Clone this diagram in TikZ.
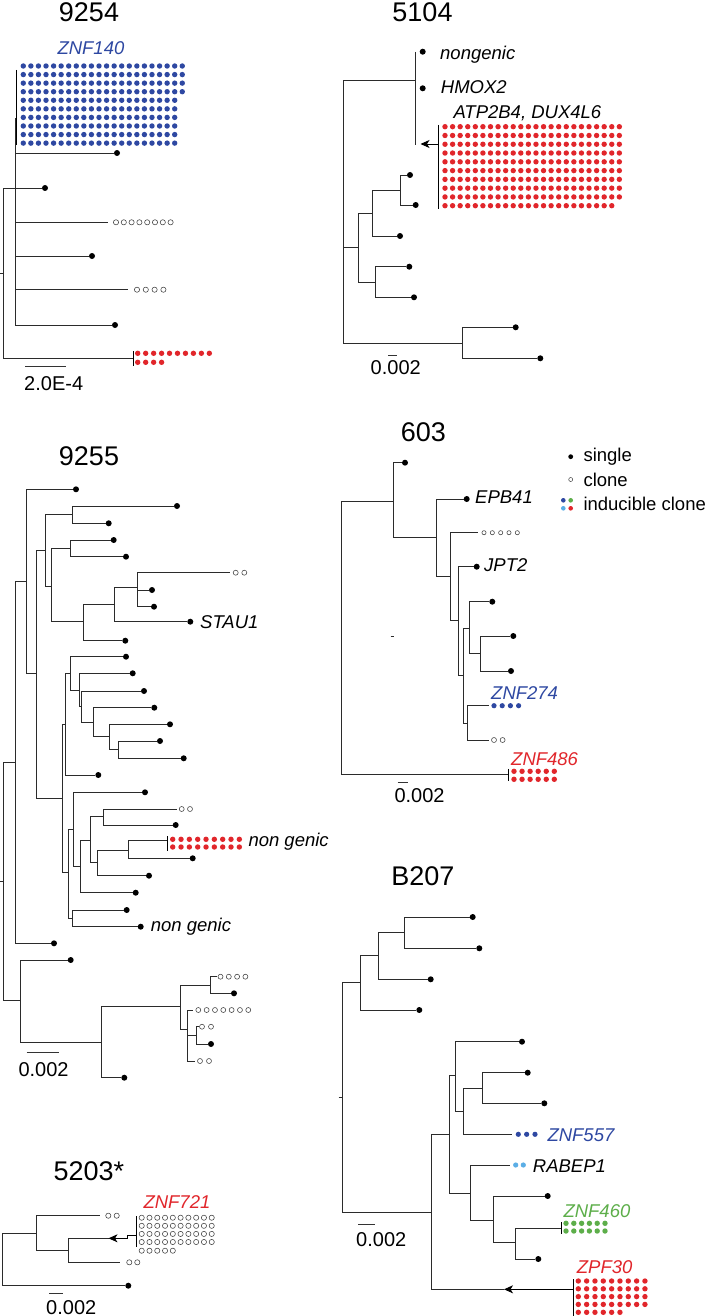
\documentclass[tikz,border=0pt]{standalone}
\usepackage{fontspec}
\setmainfont{Liberation Sans}
\usetikzlibrary{arrows.meta}
\definecolor{zblue}{HTML}{2E48A2}
\definecolor{zred}{HTML}{E1262B}
\definecolor{zgreen}{HTML}{5DAE4A}
\definecolor{zlblue}{HTML}{5BAEE6}
\definecolor{brc}{HTML}{2B2B2B}
\newcommand\drow[6]{\foreach \ci in {1,...,#3}{\path[#5] ({#1+(\ci-1)*#4},{#2}) circle[radius=#6];}}
\newcommand\dl[3]{\node[dotleaf] (#1) at (#2,#3) {};}
\newcommand\cn[3]{\coordinate (#1) at (#2,#3);}
\newcommand\br[2]{\draw[br] (#1) |- (#2);}
\begin{document}
\begin{tikzpicture}[x=1pt,y=-1pt,
  br/.style={draw=brc,line width=0.95pt},
  dotleaf/.style={circle,fill=black,inner sep=0pt,minimum size=6pt},
  ttl/.style={font=\fontsize{27}{27}\selectfont,anchor=base,inner sep=0pt},
  lab/.style={font=\fontsize{18.5}{18.5}\selectfont\itshape,anchor=base west,inner sep=0pt},
  scl/.style={font=\fontsize{20}{20}\selectfont,anchor=base west,inner sep=0pt},
  leg/.style={font=\fontsize{18.5}{18.5}\selectfont,anchor=base west,inner sep=0pt},
  oc/.style={draw=black!75,line width=0.55pt,fill=white},
  fb/.style={fill=zblue}, fr/.style={fill=zred}, fg/.style={fill=zgreen},
  flb/.style={fill=zlblue},
  bar/.style={draw=black,line width=0.95pt},
  arr/.style={draw=black,line width=0.95pt,-{Stealth[length=9pt,width=8pt,inset=2.5pt]}},
  sb/.style={draw=black!80,line width=0.95pt}
]
\fill[white] (0,0) rectangle (708,1316);
\useasboundingbox (0,0) rectangle (708,1316);

%%%%%%%%%%%%%%%% 9254
\node[ttl] (t9254) at (89,21.7) {9254};
\node[lab,text=zblue] (l140) at (57.3,55) {ZNF140};
\cn{a-rs}{0}{273}\cn{a-R}{3.3}{273}\cn{a-I}{15}{188}\cn{a-top}{15}{118}\cn{a-red}{133}{358}
\dl{a1}{117}{153}\dl{a2}{45}{188}\cn{a3}{108}{222.3}\dl{a4}{92}{256}\cn{a5}{128}{289.7}\dl{a6}{115}{325}
\draw[br] (a-rs)--(a-R);
\br{a-R}{a-I}\br{a-R}{a-red}
\br{a-I}{a-top}\br{a-I}{a1}\br{a-I}{a2}\br{a-I}{a3}\br{a-I}{a4}\br{a-I}{a5}\br{a-I}{a6}
\cn{a-bt}{16.7}{70}\cn{a-bb}{16.7}{145}\draw[bar] (a-bt)--(a-bb);
\foreach \ri in {0,...,3}{\drow{23.3}{66+\ri*8.57}{22}{7.57}{fb}{2.7pt}}
\foreach \ri in {4,...,9}{\drow{23.3}{66+\ri*8.57}{21}{7.57}{fb}{2.7pt}}
\drow{116}{222.3}{8}{7.8}{oc}{2.6pt}
\drow{137}{289.7}{4}{8.8}{oc}{2.6pt}
\draw[bar] (a-red) ++(0,-7) -- ++(0,15);
\drow{137.7}{353.3}{10}{7.96}{fr}{2.7pt}
\drow{137.7}{362.3}{4}{7.96}{fr}{2.7pt}
\cn{a-s1}{25}{366.7}\cn{a-s2}{66}{366.7}\draw[sb] (a-s1)--(a-s2);
\node[scl] (a-sl) at (24,390) {2.0E-4};

%%%%%%%%%%%%%%%% 5104
\node[ttl] (t5104) at (422.5,21.7) {5104};
\cn{b-R}{343}{247}\cn{b-T}{415}{80}\cn{b-Tt}{415}{52}\cn{b-Tb}{415}{145}
\draw[br] (b-Tt)--(b-Tb);
\dl{b1}{422.7}{51.7}\dl{b2}{422.7}{88.3}
\node[lab] (lb1) at (440,59.3) {nongenic};
\node[lab] (lb2) at (440.7,93.3) {HMOX2};
\node[lab] (lb3) at (453.3,119) {ATP2B4, DUX4L6};
\cn{b-ab}{438}{144}\cn{b-at}{420.5}{144}\draw[arr] (b-ab)--(b-at);
\cn{b-bt}{438}{125}\cn{b-bb}{438}{209}\draw[bar] (b-bt)--(b-bb);
\foreach \ri in {0,...,8}{\drow{445}{126.7+\ri*8.78}{24}{7.58}{fr}{2.7pt}}
\drow{445}{205.7}{23}{7.58}{fr}{2.7pt}
\cn{b-M}{358}{247}\cn{b-M1}{372}{213}\cn{b-Q}{400}{190}\cn{b-M2}{375}{282}\cn{b-B}{462.7}{343.3}
\dl{b3}{410}{175}\dl{b4}{415.7}{205}\dl{b5}{400}{236}\dl{b6}{409.3}{266.7}\dl{b7}{414}{297.3}
\dl{b8}{515.7}{327.3}\dl{b9}{540.3}{358.3}
\br{b-R}{b-T}\br{b-R}{b-M}\br{b-R}{b-B}
\br{b-M}{b-M1}\br{b-M}{b-M2}\br{b-M1}{b-Q}\br{b-M1}{b5}
\br{b-Q}{b3}\br{b-Q}{b4}\br{b-M2}{b6}\br{b-M2}{b7}
\br{b-B}{b8}\br{b-B}{b9}
\cn{b-s1}{388.3}{355}\cn{b-s2}{396.7}{355}\draw[sb] (b-s1)--(b-s2);
\node[scl] (b-sl) at (370.5,374) {0.002};

%%%%%%%%%%%%%%%% 9255
\node[ttl] (t9255) at (89,465) {9255};
\cn{c-rs}{0}{881.5}\cn{c-R}{3.3}{881.5}\cn{c-N0}{15}{762.3}\cn{c-NB}{20.7}{1000.7}
\draw[br] (c-rs)--(c-R); \br{c-R}{c-N0}\br{c-R}{c-NB}
\cn{c-N1}{26}{581.7}\dl{c-L0}{54}{943.3}
\br{c-N0}{c-N1}\br{c-N0}{c-L0}
\dl{c-L1}{76}{489.3}\cn{c-N2}{36.7}{673.3}
\br{c-N1}{c-L1}\br{c-N1}{c-N2}
\cn{c-N3}{45.7}{550}\cn{c-N4}{62.3}{798.3}
\br{c-N2}{c-N3}\br{c-N2}{c-N4}
\cn{c-N5}{72.7}{514}\cn{c-N6}{51}{586}
\br{c-N3}{c-N5}\br{c-N3}{c-N6}
\dl{c-L2}{177}{506}\dl{c-L3}{108.7}{523.3}
\br{c-N5}{c-L2}\br{c-N5}{c-L3}
\cn{c-N7}{70.3}{548.3}\cn{c-N8}{83.3}{621.7}
\br{c-N6}{c-N7}\br{c-N6}{c-N8}
\dl{c-L4}{113.7}{540}\dl{c-L5}{126}{556.7}
\br{c-N7}{c-L4}\br{c-N7}{c-L5}
\cn{c-N9}{114.3}{604}\dl{c-L6}{125.3}{640.7}
\br{c-N8}{c-N9}\br{c-N8}{c-L6}
\cn{c-N10}{137.7}{587}\dl{c-L7}{190.3}{621.7}
\br{c-N9}{c-N10}\br{c-N9}{c-L7}
\node[lab] (lc1) at (200,628.3) {STAU1};
\cn{c-L8}{230}{572.7}\dl{c-L9}{152}{590}\dl{c-L10}{154}{606.7}
\br{c-N10}{c-L8}\br{c-N10}{c-L9}\br{c-N10}{c-L10}
\drow{235.7}{572.7}{2}{8.6}{oc}{2.5pt}
\cn{c-N11}{65.7}{724.2}\cn{c-N12}{68.3}{872.7}
\br{c-N4}{c-N11}\br{c-N4}{c-N12}
\cn{c-N13}{70}{673.5}\dl{c-L11}{98.3}{775}
\br{c-N11}{c-N13}\br{c-N11}{c-L11}
\dl{c-L12}{126}{656.7}\cn{c-N14}{79.3}{690}
\br{c-N13}{c-L12}\br{c-N13}{c-N14}
\dl{c-L13}{132.7}{673.3}\cn{c-N15}{81.7}{706.3}
\br{c-N14}{c-L13}\br{c-N14}{c-N15}
\dl{c-L14}{144}{691}\cn{c-N16}{93.3}{722.2}
\br{c-N15}{c-L14}\br{c-N15}{c-N16}
\dl{c-L15}{154.3}{707.7}\cn{c-N17}{109.3}{736.8}
\br{c-N16}{c-L15}\br{c-N16}{c-N17}
\dl{c-L16}{170}{724.3}\cn{c-N18}{118.3}{749.7}
\br{c-N17}{c-L16}\br{c-N17}{c-N18}
\dl{c-L17}{160}{741}\dl{c-L18}{183.7}{758.3}
\br{c-N18}{c-L17}\br{c-N18}{c-L18}
\cn{c-N19}{73.3}{829.3}\cn{c-N20}{72.7}{918.3}
\br{c-N12}{c-N19}\br{c-N12}{c-N20}
\dl{c-L19}{145}{792.3}\cn{c-N21}{80}{866.3}
\br{c-N19}{c-L19}\br{c-N19}{c-N21}
\cn{c-N22}{90}{840}\dl{c-L20}{135.7}{892.7}
\br{c-N21}{c-N22}\br{c-N21}{c-L20}
\cn{c-N23}{103.3}{816.7}\cn{c-N24}{97.7}{862.8}
\br{c-N22}{c-N23}\br{c-N22}{c-N24}
\cn{c-L21}{176.7}{809}\dl{c-L22}{175.7}{825}
\br{c-N23}{c-L21}\br{c-N23}{c-L22}
\drow{181.7}{809}{2}{8.3}{oc}{2.5pt}
\cn{c-N25}{128.3}{850}\dl{c-L23}{149}{875.7}
\br{c-N24}{c-N25}\br{c-N24}{c-L23}
\cn{c-red}{167.7}{840}\dl{c-L24}{192.7}{858.3}
\br{c-N25}{c-red}\br{c-N25}{c-L24}
\draw[bar] (c-red) ++(0,-4) -- ++(0,15);
\drow{172.7}{839.3}{9}{8.33}{fr}{2.7pt}
\drow{172.7}{847}{9}{8.33}{fr}{2.7pt}
\node[lab] (lc2) at (248.3,846.7) {non genic};
\dl{c-L25}{126.7}{910}\dl{c-L26}{140.7}{926.7}
\br{c-N20}{c-L25}\br{c-N20}{c-L26}
\node[lab] (lc3) at (150.7,931.7) {non genic};
\dl{c-L27}{70.7}{960}\cn{c-NC}{101.7}{1042.7}
\br{c-NB}{c-L27}\br{c-NB}{c-NC}
\cn{c-ND}{180}{1006.7}\dl{c-L28}{124.3}{1077.7}
\br{c-NC}{c-ND}\br{c-NC}{c-L28}
\cn{c-NE}{210}{985}\cn{c-NF}{187.7}{1029.3}
\br{c-ND}{c-NE}\br{c-ND}{c-NF}
\cn{c-L29}{216.7}{976.7}\dl{c-L30}{234}{993.3}
\br{c-NE}{c-L29}\br{c-NE}{c-L30}
\drow{220.5}{976.7}{4}{8.3}{oc}{2.5pt}
\cn{c-L31}{193.3}{1010}\cn{c-NG}{196.7}{1035.3}\cn{c-L32}{195}{1061}
\br{c-NF}{c-L31}\br{c-NF}{c-NG}\br{c-NF}{c-L32}
\drow{198.3}{1010}{7}{8.33}{oc}{2.5pt}
\drow{200}{1061}{2}{9}{oc}{2.5pt}
\cn{c-L33}{198.5}{1026.7}\dl{c-L34}{211}{1044}
\br{c-NG}{c-L33}\br{c-NG}{c-L34}
\drow{202}{1026.7}{2}{9}{oc}{2.5pt}
\cn{c-s1}{26.7}{1052.3}\cn{c-s2}{59}{1052.3}\draw[sb] (c-s1)--(c-s2);
\node[scl] (c-sl) at (18.3,1076.7) {0.002};

%%%%%%%%%%%%%%%% 603
\node[ttl] (t603) at (423.3,441.7) {603};
\cn{d-R}{341.7}{638}\cn{d-A}{393.3}{501.7}\cn{d-red}{508.3}{774.3}
\br{d-R}{d-A}\br{d-R}{d-red}
\cn{d-x1}{390.5}{636.7}\cn{d-x2}{393.5}{636.7}\draw[br,line width=0.7pt] (d-x1)--(d-x2);
\dl{d1}{405}{462.7}\cn{d-B}{436.7}{537.3}
\br{d-A}{d1}\br{d-A}{d-B}
\dl{d2}{466.7}{499}\cn{d-C}{450}{576.7}
\br{d-B}{d2}\br{d-B}{d-C}
\node[lab] (ld1) at (475,503.3) {EPB41};
\cn{d3}{477.5}{532.7}\cn{d-D}{458.3}{620}
\br{d-C}{d3}\br{d-C}{d-D}
\drow{484}{532.7}{5}{8.33}{oc}{2.1pt}
\dl{d4}{476.7}{566.7}\cn{d-E}{463.3}{675}
\br{d-D}{d4}\br{d-D}{d-E}
\node[lab] (ld2) at (484,571.7) {JPT2};
\cn{d-F}{469.3}{628.3}\cn{d-G}{467.7}{723.3}
\br{d-E}{d-F}\br{d-E}{d-G}
\dl{d5}{492.3}{601.7}\cn{d-H}{480}{653.3}
\br{d-F}{d5}\br{d-F}{d-H}
\dl{d6}{513.3}{636}\dl{d7}{511}{671}
\br{d-H}{d6}\br{d-H}{d7}
\cn{d8}{489}{705.7}\cn{d9}{489.3}{740}
\br{d-G}{d8}\br{d-G}{d9}
\drow{494}{705.7}{4}{8.2}{fb}{2.6pt}
\drow{494}{740}{2}{8.6}{oc}{2.5pt}
\node[lab,text=zblue] (ld3) at (491,699.3) {ZNF274};
\draw[bar] (d-red) ++(0,-5.5) -- ++(0,12);
\drow{514}{771.3}{6}{8.06}{fr}{2.7pt}
\drow{514}{779.3}{6}{8.06}{fr}{2.7pt}
\node[lab,text=zred] (ld4) at (511,765.7) {ZNF486};
\cn{d-s1}{397.7}{782.3}\cn{d-s2}{408.3}{782.3}\draw[sb] (d-s1)--(d-s2);
\node[scl] (d-sl) at (394.3,802.7) {0.002};

%%%%%%%%%%%%%%%% legend
\node[dotleaf,minimum size=4.8pt] (g1) at (570.7,456.7) {};
\node[leg] (g1t) at (583.3,461.2) {single};
\node[circle,draw=black!75,line width=0.5pt,inner sep=0pt,minimum size=4pt] (g2) at (570.7,479.5) {};
\node[leg] (g2t) at (583.3,486) {clone};
\fill[zblue] (563.3,500.3) circle[radius=2.3pt];
\fill[zgreen] (570.7,500.3) circle[radius=2.3pt];
\fill[zlblue] (563.3,508.3) circle[radius=2.3pt];
\fill[zred] (570.7,508.3) circle[radius=2.3pt];
\node[leg] (g3t) at (583.3,510.5) {inducible clone};

%%%%%%%%%%%%%%%% B207
\node[ttl] (tB207) at (422.8,885) {B207};
\cn{e-rs}{338.5}{1097.7}\cn{e-R}{342.3}{1097.7}
\cn{e-P1}{360.7}{982.7}\cn{e-P2}{431.7}{1212.3}
\draw[br] (e-rs)--(e-R);\br{e-R}{e-P1}\br{e-R}{e-P2}
\cn{e-P3}{378.3}{955.7}\dl{e1}{419.3}{1010}
\br{e-P1}{e-P3}\br{e-P1}{e1}
\cn{e-P4}{404}{932.7}\dl{e2}{430.7}{979.3}
\br{e-P3}{e-P4}\br{e-P3}{e2}
\dl{e3}{472.7}{917}\dl{e4}{479.3}{948.3}
\br{e-P4}{e3}\br{e-P4}{e4}
\cn{e-P5}{449}{1134.3}\cn{e-ar}{504}{1289.3}
\br{e-P2}{e-P5}\br{e-P2}{e-ar}
\cn{e-P6}{455}{1075}\cn{e-P7}{470}{1193.3}
\br{e-P5}{e-P6}\br{e-P5}{e-P7}
\dl{e5}{522}{1041.7}\cn{e-P8}{463.3}{1111}
\br{e-P6}{e5}\br{e-P6}{e-P8}
\cn{e-P9}{482.7}{1088.3}\cn{e6}{511.7}{1134.3}
\br{e-P8}{e-P9}\br{e-P8}{e6}
\drow{518.3}{1134.3}{3}{8.35}{fb}{2.6pt}
\node[lab,text=zblue] (le1) at (547.3,1141) {ZNF557};
\dl{e7}{527.7}{1072.7}\dl{e8}{544.3}{1103.3}
\br{e-P9}{e7}\br{e-P9}{e8}
\cn{e9}{510}{1165}\cn{e-P10}{493.3}{1220}
\br{e-P7}{e9}\br{e-P7}{e-P10}
\drow{515.7}{1165}{2}{7.6}{flb}{2.6pt}
\node[lab] (le2) at (532.7,1172.7) {RABEP1};
\dl{e10}{547.7}{1196}\cn{e-P11}{515}{1242.7}
\br{e-P10}{e10}\br{e-P10}{e-P11}
\cn{e11}{561}{1228.3}\dl{e12}{538.3}{1259}
\br{e-P11}{e11}\br{e-P11}{e12}
\draw[bar] (e11) ++(0,-6) -- ++(0,12);
\drow{566}{1223.3}{6}{7.8}{fg}{2.7pt}
\drow{566}{1231}{6}{7.8}{fg}{2.7pt}
\node[lab,text=zgreen] (le3) at (563.3,1217.7) {ZNF460};
\cn{e-zb}{573.3}{1289.3}\draw[arr] (e-zb)--(e-ar);
\cn{e-zt}{573.3}{1279}\cn{e-zbb}{573.3}{1316}\draw[bar] (e-zt)--(e-zbb);
\foreach \ri in {0,...,3}{\drow{578.3}{1281+\ri*7.8}{9}{8.33}{fr}{2.7pt}}
\drow{578.3}{1312.3}{6}{8.33}{fr}{2.7pt}
\node[lab,text=zred] (le4) at (576.7,1273.3) {ZPF30};
\cn{e-s1}{358.3}{1224}\cn{e-s2}{375}{1224}\draw[sb] (e-s1)--(e-s2);
\node[scl] (e-sl) at (356,1246) {0.002};

%%%%%%%%%%%%%%%% 5203*
\node[ttl] (t5203) at (88.8,1180) {5203*};
\node[lab,text=zred] (lf1) at (143.3,1208.3) {ZNF721};
\cn{f-R}{2.7}{1259.5}\cn{f-N1}{36.7}{1233.3}\dl{f1}{128.3}{1285.7}
\br{f-R}{f-N1}\br{f-R}{f1}
\cn{f2}{100}{1215.7}\cn{f-N2}{68.3}{1250}
\br{f-N1}{f2}\br{f-N1}{f-N2}
\drow{108.3}{1215.7}{2}{8.4}{oc}{2.6pt}
\cn{f-a}{108.5}{1238.3}\cn{f3}{120}{1262.3}
\br{f-N2}{f-a}\br{f-N2}{f3}
\drow{129.3}{1262.3}{2}{8}{oc}{2.6pt}
\cn{f-b}{136.7}{1235}\draw[arr] (f-b) -- ++(-9,0) |- (f-a);
\cn{f-bt}{136.7}{1216}\cn{f-bb}{136.7}{1247}\draw[bar] (f-bt)--(f-bb);
\foreach \ri in {0,...,3}{\drow{141.7}{1217.7+\ri*8.1}{10}{7.78}{oc}{2.6pt}}
\drow{141.7}{1250.7}{5}{7.78}{oc}{2.6pt}
\cn{f-s1}{49.3}{1293.3}\cn{f-s2}{63.3}{1293.3}\draw[sb] (f-s1)--(f-s2);
\node[scl] (f-sl) at (46,1314) {0.002};
\end{tikzpicture}
\end{document}
